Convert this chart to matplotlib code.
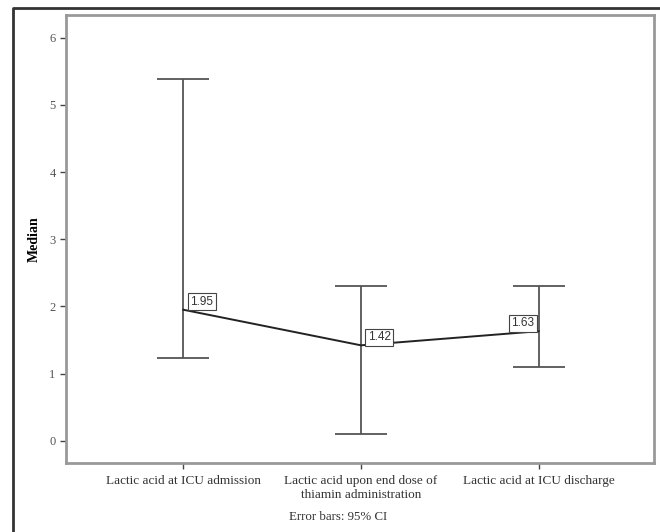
import matplotlib.pyplot as plt
from matplotlib.lines import Line2D

# Median lactic acid with 95% CI error bars
categories = ['Lactic acid at ICU admission',
              'Lactic acid upon end dose of\nthiamin administration',
              'Lactic acid at ICU discharge']
medians = [1.95, 1.42, 1.63]
ci_low = [1.23, 0.10, 1.10]
ci_high = [5.38, 2.30, 2.30]
yticks = [0, 1, 2, 3, 4, 5, 6]

plt.rcParams['font.family'] = ['Liberation Serif', 'DejaVu Serif']

fig = plt.figure(figsize=(6.6, 5.32), dpi=100, facecolor='white')
ax = fig.add_axes([0.1, 0.13, 0.891, 0.842])

x = list(range(len(categories)))
err = [[m - lo for m, lo in zip(medians, ci_low)],
       [hi - m for m, hi in zip(medians, ci_high)]]
ax.errorbar(x, medians, yerr=err, fmt='none', ecolor='#555555',
            elinewidth=1.3, capsize=19, capthick=1.3)
ax.plot(x, medians, color='#222222', lw=1.4)

for i, m in enumerate(medians):
    if i == len(medians) - 1:
        off, ha = (-3, 1.5), 'right'
    else:
        off, ha = (5, 1.5), 'left'
    ax.annotate(f'{m:.2f}', (i, m), xytext=off, textcoords='offset points',
                ha=ha, va='bottom', fontsize=8.5, family='Liberation Sans',
                color='#333333',
                bbox=dict(boxstyle='square,pad=0.22', fc='white',
                          ec='#444444', lw=0.8))

ax.set_xlim(-0.66, 2.65)
ax.set_ylim(-0.33, 6.34)
ax.set_xticks(x)
ax.set_xticklabels(categories, fontsize=9.5, color='#333333')
ax.set_yticks(yticks)
ax.tick_params(axis='y', labelsize=9, colors='#444444', length=4,
               width=1, labelcolor='#555555')
ax.tick_params(axis='x', length=4, width=1, colors='#444444',
               labelcolor='#333333', pad=5)
ax.set_ylabel('Median', fontsize=10, fontweight='bold', labelpad=6)
for s in ax.spines.values():
    s.set_color('#999999')
    s.set_linewidth(2)

fig.text(338 / 660, 1 - 517 / 532, 'Error bars: 95% CI', ha='center',
         va='center', fontsize=9.3, color='#333333')

# outer frame (left and top edges)
fig.add_artist(Line2D([13 / 660, 13 / 660, 1.0], [0.0, 1 - 8 / 532, 1 - 8 / 532],
                      transform=fig.transFigure, color='#333333', lw=2))

fig.savefig('out.png', dpi=100, facecolor='white')
